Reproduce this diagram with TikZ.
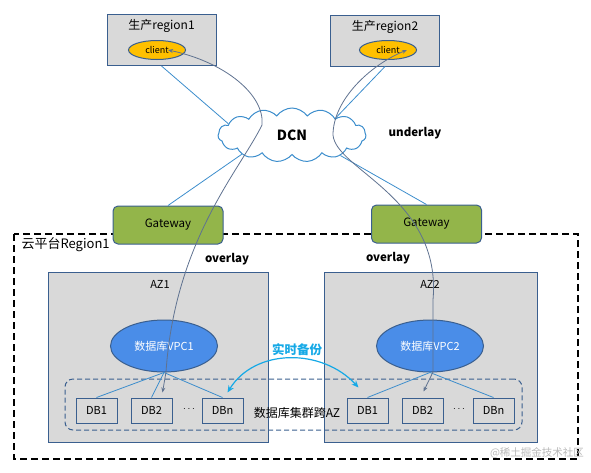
\documentclass[tikz,border=0pt]{standalone}
\usepackage{fontspec}
\setmainfont{Noto Sans CJK SC}
\usetikzlibrary{shapes.geometric,shapes.symbols,arrows.meta,calc}

\definecolor{boxgrey}{HTML}{D9D9D9}
\definecolor{boxblue}{HTML}{3A5F8F}
\definecolor{clientyellow}{HTML}{FFC000}
\definecolor{gwgreen}{HTML}{93B54A}
\definecolor{vpcblue}{HTML}{4A8DE8}
\definecolor{linkblue}{HTML}{3C8DCC}
\definecolor{pathgrey}{HTML}{5F7290}
\definecolor{syncblue}{HTML}{16A9E6}

\tikzset{
  regionbox/.style={draw=boxblue, fill=boxgrey, line width=1pt, minimum width=109pt, minimum height=51pt},
  clientnode/.style={ellipse, draw=boxblue, fill=clientyellow, line width=1pt, minimum width=57pt, minimum height=19pt, inner sep=0pt, font=\fontsize{9}{10}\selectfont},
  gwnode/.style={draw=boxblue, fill=gwgreen, line width=1pt, rounded corners=5pt, minimum width=110pt, minimum height=38pt, font=\fontsize{11.5}{13}\selectfont},
  azbox/.style={draw=boxblue, fill=boxgrey, line width=1pt},
  vpcnode/.style={ellipse, draw=boxblue, fill=vpcblue, line width=1pt, minimum width=107pt, minimum height=52pt, text=white, font=\fontsize{11}{12}\selectfont},
  dbbox/.style={draw=boxblue, fill=boxgrey, line width=1pt, minimum width=41pt, minimum height=25pt, inner sep=1pt, font=\fontsize{11}{12}\selectfont},
  clusterbox/.style={draw=boxblue, dashed, dash pattern=on 5pt off 3pt, line width=1pt, rounded corners=8pt},
  link/.style={draw=linkblue, line width=0.8pt},
  overlaypath/.style={draw=pathgrey, line width=0.8pt, {Stealth[length=5pt,width=4pt]}-{Stealth[length=5pt,width=4pt]}},
  boldlabel/.style={font=\bfseries\fontsize{11.5}{13}\selectfont}
}

\begin{document}
\begin{tikzpicture}[x=1pt, y=-1pt]
  \useasboundingbox (0,0) rectangle (591,472);

  % cloud platform frame
  \draw[dashed, dash pattern=on 7pt off 4pt, line width=1.4pt] (14,234) rectangle (578,459);
  \node[anchor=west, font=\fontsize{13}{15}\selectfont] (cloudplat) at (18,245) {云平台Region1};

  % production regions
  \node[regionbox] (r1) at (161.5,40) {};
  \node[font=\fontsize{12}{14}\selectfont] (r1t) at (r1.north) [yshift=-12pt] {生产region1};
  \node[clientnode] (cl1) at (157,50) {client};
  \node[regionbox] (r2) at (385,40.5) {};
  \node[font=\fontsize{12}{14}\selectfont] (r2t) at (r2.north) [yshift=-12pt] {生产region2};
  \node[clientnode] (cl2) at (388,50) {client};

  % DCN
  \node[cloud, cloud puffs=15, cloud puff arc=110, aspect=2.7, draw=linkblue, line width=1pt, minimum width=148pt, minimum height=54pt, font=\bfseries\fontsize{14}{16}\selectfont] (dcn) at (292,135) {DCN};
  \node[boldlabel] (underlay) at (415,133) {underlay};

  % gateways
  \node[gwnode] (gw1) at (168,225) {Gateway};
  \node[gwnode] (gw2) at (426.5,224) {Gateway};
  \node[boldlabel] (ov1) at (227,259) {overlay};
  \node[boldlabel] (ov2) at (388,258) {overlay};

  % AZs
  \node[azbox, minimum width=220pt, minimum height=170pt] (az1) at (158,357) {};
  \node[font=\fontsize{11}{12}\selectfont] (az1t) at (160,284) {AZ1};
  \node[azbox, minimum width=213pt, minimum height=170pt] (az2) at (430.5,357) {};
  \node[font=\fontsize{11}{12}\selectfont] (az2t) at (430,284) {AZ2};

  \node[vpcnode] (v1) at (164,346) {数据库VPC1};
  \node[vpcnode] (v2) at (430,346) {数据库VPC2};

  % database cluster
  \node[clusterbox, minimum width=457pt, minimum height=51pt] (cluster) at (293.5,404.5) {};
  \node[font=\fontsize{12}{14}\selectfont] (clt) at (297,413) {数据库集群跨AZ};
  \node[dbbox] (a1) at (96.5,410.5) {DB1};
  \node[dbbox] (a2) at (151.5,410.5) {DB2};
  \node (adots) at (189,409) {$\cdots$};
  \node[dbbox] (an) at (222.5,410.5) {DBn};
  \node[dbbox] (b1) at (367.5,410.5) {DB1};
  \node[dbbox] (b2) at (422.5,410.5) {DB2};
  \node (bdots) at (459,409) {$\cdots$};
  \node[dbbox] (bn) at (493.5,410.5) {DBn};

  % underlay links
  \draw[link] (r1.south) -- (dcn.170);
  \draw[link] (dcn.201) -- (gw1.north);
  \draw[link] (r2.south) -- (dcn.21);
  \draw[link] (dcn.337) -- (gw2.north);
  \draw[link] (v1.south) -- (a1.north);
  \draw[link] (v1.south) -- (a2.north);
  \draw[link] (v1.south) -- (an.north);
  \draw[link] (v2.south) -- (b1.north);
  \draw[link] (v2.south) -- (bn.north);

  % overlay paths
  \draw[overlaypath] ($(cl1.center)+(11,0)$) .. controls (225,62) and (265,95) .. (262,125)
    .. controls (240,170) and (175,240) .. (166,372) -- ($(a2.north)+(11,-5)$);
  \draw[overlaypath] ($(cl2.center)+(19,0)$) .. controls (370,65) and (333,100) .. (333,135)
    .. controls (336,170) and (442,198) .. (433,300) -- (433,372) -- ($(b2.north)+(1,-6)$);

  % real-time backup
  \draw[syncblue, line width=1.2pt, {Stealth[length=7pt,width=6pt]}-{Stealth[length=7pt,width=6pt]}]
    ($(an.north)+(5,-5)$) .. controls (255,348) and (322,348) .. ($(b1.north)+(-9,-10)$);
  \node[boldlabel, text=syncblue, font=\bfseries\fontsize{12.5}{14}\selectfont] (synct) at (297,350) {实时备份};

  % watermark
  \node[text=gray!55, font=\fontsize{10.5}{12}\selectfont] (wm) at (537,453) {@稀土掘金技术社区};
\end{tikzpicture}
\end{document}
